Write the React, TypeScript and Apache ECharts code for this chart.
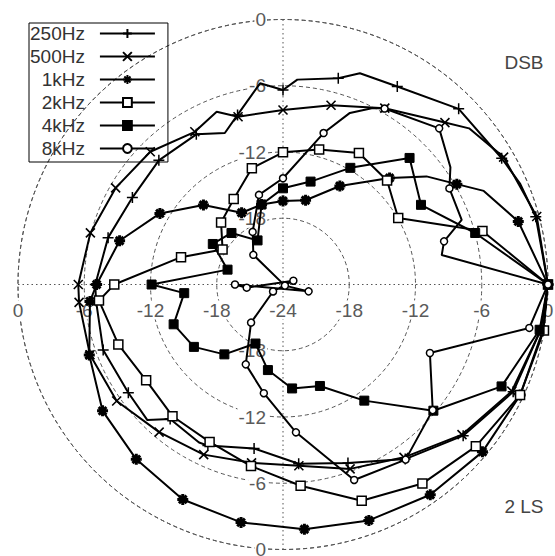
import React, { useEffect, useRef } from 'react';
import * as echarts from 'echarts';

const FONT = '"Liberation Sans", Arial, sans-serif';

const seriesNames = ['250Hz', '500Hz', '1kHz', '2kHz', '4kHz', '8kHz'];

// [angle (deg), level (dB), marker shown 1/0]
const hz250: number[][] = [
  [0, 0, 1], [15, -0.3, 1], [23, -0.66, 0], [30, -1.13, 1], [45, -1.5, 1], [60, -3.3, 1], [70, -3.64, 0],
  [75, -4.66, 1], [86, -5.4, 0], [90, -6.38, 1], [96.5, -5.66, 0], [105, -8.1, 1], [111, -9.3, 0],
  [120, -8.3, 1], [135, -8.1, 1], [150, -8.25, 1], [165, -7.6, 1], [180, -7.0, 1], [185, -7.0, 1],
  [200, -6.67, 1], [215, -6.9, 1], [225, -6.63, 0], [230, -8.1, 1], [242, -7.8, 0], [245, -7.9, 1],
  [260, -8.92, 1], [275, -7.7, 1], [290, -6.8, 1], [305, -4.7, 1], [320, -2.7, 1], [335, -1.0, 1],
  [350, -0.3, 1], [360, 0, 0],
];
const hz500: number[][] = [
  [0, 0, 1], [15, -0.21, 1], [30, -0.93, 1], [40, -2.0, 0], [45, -3.26, 1], [60, -5.56, 1],
  [75, -7.19, 1], [90, -8.2, 1], [105, -8.27, 1], [111, -7.24, 0], [120, -8.03, 1], [135, -7.0, 1],
  [150, -6.5, 1], [165, -5.94, 1], [180, -5.46, 1], [185, -5.46, 1], [200, -5.4, 1], [215, -5.61, 1],
  [230, -6.55, 1], [245, -7.0, 1], [260, -7.6, 1], [275, -7.52, 1], [290, -6.23, 1], [305, -4.89, 1],
  [320, -2.84, 1], [335, -1.14, 1], [350, -0.3, 1], [360, 0, 0],
];
const hz1k: number[][] = [
  [0, 0, 1], [15, -1.94, 1], [25, -3.94, 0], [30, -5.82, 1], [37, -7.73, 0], [45, -10.35, 1],
  [60, -13.7, 1], [75, -16.1, 1], [90, -16.44, 1], [105, -16.5, 1], [120, -16.5, 1], [135, -13.81, 1],
  [150, -11.13, 1], [165, -8.68, 1], [180, -7.12, 1], [185, -6.45, 1], [200, -5.33, 1], [215, -4.05, 1],
  [230, -3.33, 1], [245, -2.52, 1], [260, -2.12, 1], [275, -1.75, 1], [290, -1.26, 1], [305, -0.75, 1],
  [320, -0.42, 1], [335, -0.3, 1], [350, -0.1, 1], [360, 0, 0],
];
const hz2k: number[][] = [
  [0, 0, 1], [15, -5.3, 1], [30, -11.95, 1], [45, -10.67, 1], [60, -10.25, 1], [75, -11.35, 1],
  [90, -12.03, 1], [105, -13.1, 1], [120, -15.07, 1], [135, -16.07, 1], [150, -17.68, 1],
  [165, -14.44, 1], [180, -8.72, 1], [185, -7.27, 1], [200, -8.13, 1], [215, -8.87, 1], [230, -8.43, 1],
  [245, -8.27, 1], [260, -7.3, 1], [275, -5.7, 1], [290, -3.16, 1], [305, -1.99, 1], [320, -1.2, 1],
  [335, -0.31, 1], [350, 0, 1], [360, 0, 0],
];
const hz4k: number[][] = [
  [0, 0, 1], [15, -5.98, 1], [30, -9.57, 1], [45, -7.79, 1], [60, -11.8, 1], [75, -14.35, 1],
  [90, -15.29, 1], [105, -16.5, 1], [120, -19.39, 1], [135, -17.4, 1], [150, -16.66, 1], [165, -18.8, 1],
  [180, -12.1, 1], [185, -15.02, 1], [200, -13.46, 1], [215, -14.15, 1], [230, -15.74, 1], [245, -18.1, 1],
  [260, -16.13, 1], [275, -14.55, 1], [290, -14.22, 1], [305, -11.16, 1], [320, -6.22, 1], [335, -2.16, 1],
  [350, -0.4, 1], [360, 0, 0],
];
const hz8k: number[][] = [
  [0, 0, 1], [10.5, -9.38, 0], [15, -8.9, 1], [19.9, -6.79, 0], [30, -6.6, 1], [35, -5.49, 0],
  [45, -4.0, 1], [60, -5.6, 1], [63, -6.06, 0], [68.7, -7.32, 0], [75, -9.8, 1], [90, -14.38, 1],
  [105, -15.6, 1], [120, -18.5, 1], [135, -20.2, 1], [150, -24.2, 1], [165, -26.4, 1], [180, -19.65, 1],
  [185, -20.7, 1], [200, -25.0, 1], [215, -22.9, 1], [230, -19.5, 1], [245, -16.02, 1], [260, -14.0, 1],
  [275, -10.56, 1], [290, -5.16, 1], [305, -4.64, 1], [320, -6.3, 1], [335, -9.32, 1], [350, -1.35, 1],
  [360, 0, 0],
];

const seriesData = [hz250, hz500, hz1k, hz2k, hz4k, hz8k];

const markers = [
  { symbol: 'path://M5,0L5,10M0,5L10,5', size: 11, fill: '#000', bw: 1.5 },
  { symbol: 'path://M0,0L10,10M10,0L0,10', size: 9, fill: '#000', bw: 1.6 },
  { symbol: 'path://M5,0L5,10M0,5L10,5M1.5,1.5L8.5,8.5M8.5,1.5L1.5,8.5', size: 11, fill: '#000', bw: 3 },
  { symbol: 'rect', size: 9, fill: '#fff', bw: 1.5 },
  { symbol: 'rect', size: 9, fill: '#000', bw: 1 },
  { symbol: 'circle', size: 7, fill: '#fff', bw: 1.5 },
];

const CENTER = [283, 284.5];
const RADIUS = 265;

export default function App() {
  const ref = useRef<HTMLDivElement>(null);
  useEffect(() => {
    if (!ref.current) return;
    const chart = echarts.init(ref.current, undefined, { renderer: 'svg' });
    const labelStyle = {
      color: '#5a5a5a',
      fontSize: 19,
      fontFamily: FONT,
      backgroundColor: '#fff',
      padding: [0, 1],
    };
    const polarBase = { center: CENTER, radius: RADIUS };
    const hiddenAngle = (idx: number, start: number) => ({
      polarIndex: idx,
      type: 'value',
      min: 0,
      max: 360,
      interval: 90,
      startAngle: start,
      clockwise: false,
      show: false,
    });
    const labelRadius = (idx: number, axisLabel: any) => ({
      polarIndex: idx,
      type: 'value',
      min: -24,
      max: 0,
      interval: 6,
      axisLine: { show: false },
      axisTick: { show: false },
      splitLine: { show: false },
      axisLabel: { ...labelStyle, ...axisLabel },
      z: 1,
    });
    const option: any = {
      animation: false,
      polar: [polarBase, polarBase, polarBase, polarBase],
      angleAxis: [
        {
          polarIndex: 0,
          type: 'value',
          min: 0,
          max: 360,
          interval: 90,
          startAngle: 0,
          clockwise: false,
          axisLine: { show: true, lineStyle: { color: '#555', type: [4, 3], width: 1 } },
          axisTick: { show: false },
          axisLabel: { show: false },
          splitLine: { show: true, lineStyle: { color: '#555', type: [1.5, 3], width: 1 } },
        },
        hiddenAngle(1, 90),
        hiddenAngle(2, 180),
        hiddenAngle(3, 270),
      ],
      radiusAxis: [
        {
          polarIndex: 0,
          type: 'value',
          min: -24,
          max: 0,
          interval: 6,
          axisLine: { show: false },
          axisTick: { show: false },
          splitLine: { show: true, lineStyle: { color: '#555', type: [4, 3], width: 1 } },
          axisLabel: { ...labelStyle, showMinLabel: false, margin: -16, verticalAlign: 'top' },
        },
        labelRadius(1, { showMinLabel: false, margin: 16, align: 'right', verticalAlign: 'middle' }),
        labelRadius(2, { margin: 16, verticalAlign: 'top' }),
        labelRadius(3, { showMinLabel: false, margin: -16, align: 'right', verticalAlign: 'middle' }),
      ],
      legend: {
        orient: 'vertical',
        left: 29,
        top: 23,
        align: 'right',
        itemWidth: 55,
        itemHeight: 11,
        itemGap: 4,
        padding: [1, 12, 4, 1],
        borderColor: '#000',
        borderWidth: 1,
        borderRadius: 0,
        selectedMode: false,
        textStyle: { fontSize: 19, fontFamily: FONT, color: '#333', padding: [0, 10, 0, 0] },
        data: seriesNames,
      },
      graphic: [
        {
          type: 'text', x: 524, y: 62,
          style: { text: 'DSB', fontSize: 19, fontFamily: FONT, fill: '#444', align: 'center', verticalAlign: 'middle' },
        },
        {
          type: 'text', x: 524, y: 506,
          style: { text: '2 LS', fontSize: 19, fontFamily: FONT, fill: '#444', align: 'center', verticalAlign: 'middle' },
        },
      ],
      series: seriesNames.map((name, i) => ({
        name,
        type: 'line',
        coordinateSystem: 'polar',
        polarIndex: 0,
        clip: false,
        symbol: markers[i].symbol,
        symbolSize: markers[i].size,
        showAllSymbol: true,
        lineStyle: { color: '#000', width: 2 },
        itemStyle: { color: markers[i].fill, borderColor: '#000', borderWidth: markers[i].bw },
        emphasis: { disabled: true },
        data: seriesData[i].map(([ang, db, mk]) =>
          mk ? { value: [db, ang] } : { value: [db, ang], symbol: 'none' }
        ),
        z: 3,
      })),
    };
    chart.setOption(option);
    return () => chart.dispose();
  }, []);
  return (
    <div
      ref={ref}
      style={{ position: 'absolute', left: 0, top: 0, width: 555, height: 556, background: '#fff' }}
    />
  );
}
